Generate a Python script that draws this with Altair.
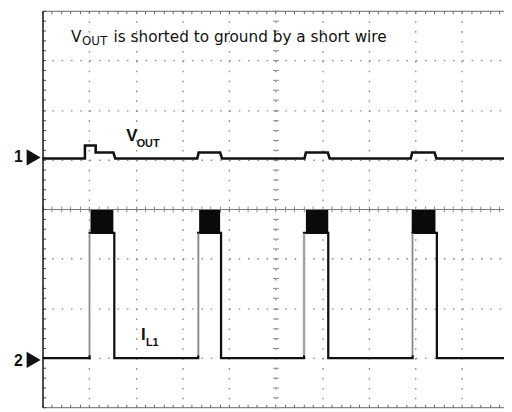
import altair as alt
import pandas as pd
import numpy as np

# ---------------- data (oscilloscope divisions) ----------------
XMAX = 9.9          # visible horizontal divisions
YMAX = 8.0          # vertical divisions

# CH1: V_OUT trace (time in div, level in div)
vout_t = [0.00, 0.91, 0.91, 1.14, 1.14, 1.52, 1.56, 3.32, 3.35, 3.81, 3.85,
          5.62, 5.65, 6.12, 6.16, 7.90, 7.93, 8.41, 8.45, 9.90]
vout_v = [5.02, 5.02, 5.28, 5.28, 5.14, 5.14, 5.02, 5.02, 5.14, 5.14, 5.02,
          5.02, 5.14, 5.14, 5.02, 5.02, 5.14, 5.14, 5.02, 5.02]

# CH2: inductor current I_L1
il_t = [0.00, 1.01, 1.01, 1.54, 1.54, 3.34, 3.34, 3.83, 3.83, 5.61, 5.61,
        6.13, 6.13, 7.94, 7.94, 8.46, 8.46, 9.90]
il_v = [0.99, 0.99, 3.52, 3.52, 0.99, 0.99, 3.52, 3.52, 0.99, 0.99, 3.52,
        3.52, 0.99, 0.99, 3.52, 3.52, 0.99, 0.99]

# current-limit switching band (black blocks)
box_start = [1.03, 3.36, 5.65, 7.92]
box_end = [1.52, 3.81, 6.13, 8.43]
box_low = [3.52, 3.52, 3.52, 3.52]
box_high = [3.98, 3.98, 3.98, 3.98]

# fast rising edges (drawn lighter)
rise_t = [1.01, 3.34, 5.61, 7.94]
rise_lo = [1.05, 1.05, 1.05, 1.05]
rise_hi = [3.50, 3.50, 3.50, 3.50]

# channel ground markers
ch_names = ["1", "2"]
ch_text_y = [4.94, 0.83]
ch_arrow_y = [5.04, 0.955]

# graticule
major_x = [1, 2, 3, 4, 5, 6, 7, 8, 9]
major_y = [1, 2, 3, 5, 6, 7]
minor_x = [round(v, 2) for v in np.arange(0, XMAX + 0.001, 0.2)]
minor_y = [round(v, 2) for v in np.arange(0, YMAX + 0.001, 0.2)]

# text annotations
title_big = ["V", "is shorted to ground by a short wire"]
title_big_x = [0.613, 1.523]
title_big_y = [7.37, 7.37]
title_sub = ["OUT"]
title_sub_x = [0.846]
title_sub_y = [7.30]

lab_big = ["V", "I"]
lab_big_x = [1.798, 2.115]
lab_big_y = [5.37, 1.36]
lab_sub = ["OUT", "L1"]
lab_sub_x = [2.02, 2.22]
lab_sub_y = [5.26, 1.24]

# ---------------- chart ----------------
W, H = 468, 402
xs = alt.Scale(domain=[0, XMAX], nice=False, zero=False)
ys = alt.Scale(domain=[0, YMAX], nice=False, zero=False)
CX = W * 5 / XMAX


def ax(orient, offset=0, values=None, tick=3, domain=False, dcol="#777", dw=1.0,
       tcol="#777", grid=False, gdash=None):
    kw = dict(orient=orient, offset=offset, labels=False, title=None,
              domain=domain, grid=grid)
    if values is not None:
        kw["values"] = values
    if tick:
        kw.update(ticks=True, tickSize=tick, tickColor=tcol, tickWidth=1)
    else:
        kw["ticks"] = False
    if domain:
        kw.update(domainColor=dcol, domainWidth=dw)
    if grid:
        kw.update(gridColor="#8c8c8c", gridWidth=1.4, gridDash=gdash)
    return alt.Axis(**kw)


df_vout = pd.DataFrame({"t": vout_t, "v": vout_v, "i": range(len(vout_t))})
df_il = pd.DataFrame({"t": il_t, "v": il_v, "i": range(len(il_t))})
df_box = pd.DataFrame({"a": box_start, "b": box_end, "lo": box_low, "hi": box_high})
df_rise = pd.DataFrame({"t": rise_t, "lo": rise_lo, "hi": rise_hi})

vout = alt.Chart(df_vout).mark_line(color="#111", strokeWidth=2.6, interpolate="linear").encode(
    x=alt.X("t:Q", scale=xs, axis=ax("bottom", offset=-H, values=minor_x, tick=3,
                                       domain=True, dcol="#666", tcol="#666")),
    y=alt.Y("v:Q", scale=ys, axis=ax("right", offset=-W, values=minor_y, tick=3,
                                       domain=True, dcol="#222", dw=1.6, tcol="#444")),
    order="i:Q",
)

il = alt.Chart(df_il).mark_line(color="#111", strokeWidth=2.3).encode(
    x=alt.X("t:Q", scale=xs, axis=ax("top", offset=-H, values=minor_x, tick=3,
                                       domain=True, dcol="#666", tcol="#666")),
    y=alt.Y("v:Q", scale=ys, axis=ax("left", offset=-CX, values=minor_y, tick=3,
                                       tcol="#888")),
    order="i:Q",
)

box = alt.Chart(df_box).mark_rect(color="#0a0a0a").encode(
    x=alt.X("a:Q", scale=xs, axis=ax("bottom", offset=-H / 2, values=minor_x, tick=3,
                                       domain=True, dcol="#7a7a7a", dw=1.2, tcol="#888")),
    x2="b:Q",
    y=alt.Y("lo:Q", scale=ys, axis=ax("right", offset=-(W - CX), values=minor_y, tick=3,
                                        tcol="#888")),
    y2="hi:Q",
)

rise_white = alt.Chart(df_rise).mark_rule(color="white", strokeWidth=2.8).encode(
    x=alt.X("t:Q", scale=xs, axis=ax("top", offset=-H / 2, values=minor_x, tick=3,
                                       tcol="#888")),
    y=alt.Y("lo:Q", scale=ys, axis=ax("left", values=major_y, tick=0, grid=True,
                                        gdash=[1.6, 7.85])),
    y2="hi:Q",
)
rise_gray = alt.Chart(df_rise).mark_rule(color="#8a8a8a", strokeWidth=1.6).encode(
    x=alt.X("t:Q", scale=xs, axis=None),
    y=alt.Y("lo:Q", scale=ys, axis=None),
    y2="hi:Q",
)

df_tb = pd.DataFrame({"x": title_big_x, "y": title_big_y, "s": title_big})
df_ts = pd.DataFrame({"x": title_sub_x, "y": title_sub_y, "s": title_sub})
df_lb = pd.DataFrame({"x": lab_big_x, "y": lab_big_y, "s": lab_big})
df_ls = pd.DataFrame({"x": lab_sub_x, "y": lab_sub_y, "s": lab_sub})
df_ch = pd.DataFrame({"s": ch_names, "ty": ch_text_y, "ay": ch_arrow_y})

t_big = alt.Chart(df_tb).mark_text(align="left", baseline="alphabetic", font="DejaVu Sans",
                                   fontSize=15.5, color="#111").encode(
    x=alt.X("x:Q", scale=xs, axis=ax("bottom", values=major_x, tick=0, grid=True,
                                       gdash=[1.6, 8.45])),
    y=alt.Y("y:Q", scale=ys, axis=None),
    text="s:N",
)
t_sub = alt.Chart(df_ts).mark_text(align="left", baseline="alphabetic", font="DejaVu Sans",
                                   fontSize=12, color="#111").encode(
    x=alt.X("x:Q", scale=xs, axis=None), y=alt.Y("y:Q", scale=ys, axis=None), text="s:N")
l_big = alt.Chart(df_lb).mark_text(align="left", baseline="alphabetic", font="Liberation Sans",
                                   fontWeight="bold", fontSize=17, color="#111").encode(
    x=alt.X("x:Q", scale=xs, axis=None), y=alt.Y("y:Q", scale=ys, axis=None), text="s:N")
l_sub = alt.Chart(df_ls).mark_text(align="left", baseline="alphabetic", font="Liberation Sans",
                                   fontWeight="bold", fontSize=11, color="#111").encode(
    x=alt.X("x:Q", scale=xs, axis=None), y=alt.Y("y:Q", scale=ys, axis=None), text="s:N")
ch_txt = alt.Chart(df_ch).mark_text(align="right", baseline="alphabetic", font="Liberation Sans",
                                    fontWeight="bold", fontSize=16, color="#111").encode(
    x=alt.value(-20), y=alt.Y("ty:Q", scale=ys, axis=None), text="s:N")
ch_arrow = alt.Chart(df_ch).mark_point(shape="triangle-right", filled=True, color="#111",
                                       size=270, opacity=1).encode(
    x=alt.value(-9), y=alt.Y("ay:Q", scale=ys, axis=None))

chart = alt.layer(
    vout, il, box, rise_white, rise_gray, t_big, t_sub, l_big, l_sub, ch_txt, ch_arrow
).resolve_axis(x="independent", y="independent").properties(
    width=W, height=H,
    autosize=alt.AutoSizeParams(type="none"),
    padding={"left": 35, "top": 0, "right": 0, "bottom": 0},
    background="white",
).configure_view(stroke=None)

chart.save("out.html", embed_options={"renderer": "svg", "actions": False})
